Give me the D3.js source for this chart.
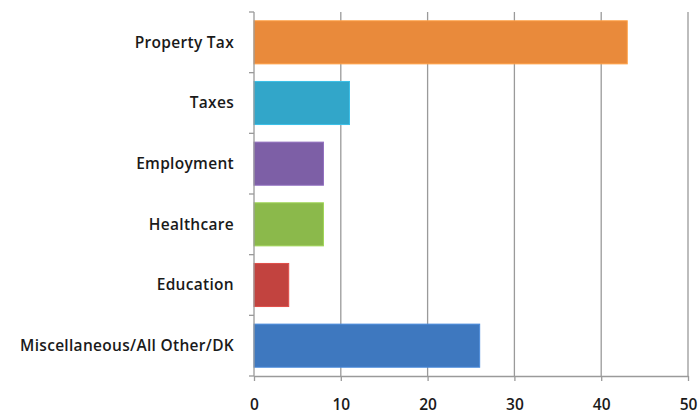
<!DOCTYPE html>
<html>
<head>
<meta charset="utf-8">
<script src="https://cdn.jsdelivr.net/npm/d3@7"></script>
<style>
  body { margin: 0; background: #fff; }
  text { font-family: "Open Sans", sans-serif; font-weight: 600; fill: #1a1a1a; }
</style>
</head>
<body>
<div class="chart"></div>
<script>
const width = 698;
const height = 415;

const categories = [
  "Property Tax",
  "Taxes",
  "Employment",
  "Healthcare",
  "Education",
  "Miscellaneous/All Other/DK",
];
const values = [43, 11, 8, 8, 4, 26];
const colors = ["#e98a3b", "#32a6c9", "#7d5fa6", "#8bb94b", "#c2433f", "#3e78bf"];
const xTicks = [0, 10, 20, 30, 40, 50];

const margin = { top: 12, right: 10, bottom: 39, left: 254 };

const svg = d3
  .select(".chart")
  .append("svg")
  .attr("width", width)
  .attr("height", height);

const x = d3.scaleLinear().domain([0, 50]).range([margin.left, 688]);
const y = d3
  .scaleBand()
  .domain(categories)
  .range([margin.top, height - margin.bottom])
  .paddingInner(0.29)
  .paddingOuter(0.145);

// gridlines
svg
  .append("g")
  .selectAll("line")
  .data(xTicks.slice(1))
  .enter()
  .append("line")
  .attr("x1", (d) => x(d))
  .attr("x2", (d) => x(d))
  .attr("y1", margin.top)
  .attr("y2", height - margin.bottom)
  .attr("stroke", "#9a9a9a")
  .attr("stroke-width", 1.3);

// bars
svg
  .append("g")
  .selectAll("rect")
  .data(categories)
  .enter()
  .append("rect")
  .attr("x", x(0))
  .attr("y", (d) => y(d))
  .attr("width", (d, i) => x(values[i]) - x(0))
  .attr("height", y.bandwidth())
  .attr("fill", (d, i) => colors[i])
  .attr("stroke", (d, i) => d3.color(colors[i]).brighter(0.4))
  .attr("stroke-width", 1);

// y axis with outward ticks at band edges
const yAxis = svg.append("g");
yAxis
  .append("line")
  .attr("x1", x(0))
  .attr("x2", x(0))
  .attr("y1", margin.top)
  .attr("y2", height - margin.bottom)
  .attr("stroke", "#9a9a9a")
  .attr("stroke-width", 1.3);

const step = y.step();
const bandEdges = d3.range(categories.length + 1).map((i) => margin.top + i * step);
yAxis
  .selectAll(".ytick")
  .data(bandEdges)
  .enter()
  .append("line")
  .attr("x1", x(0) - 5)
  .attr("x2", x(0))
  .attr("y1", (d) => d)
  .attr("y2", (d) => d)
  .attr("stroke", "#9a9a9a")
  .attr("stroke-width", 1.3);

yAxis
  .selectAll("text")
  .data(categories)
  .enter()
  .append("text")
  .attr("x", x(0) - 20)
  .attr("y", (d) => y(d) + y.bandwidth() / 2)
  .attr("dy", "0.35em")
  .attr("text-anchor", "end")
  .style("font-size", "15.5px")
  .style("letter-spacing", "0.3px")
  .text((d) => d);

// x axis
const xAxis = svg
  .append("g")
  .attr("transform", `translate(0,${height - margin.bottom})`)
  .call(d3.axisBottom(x).tickValues(xTicks).tickSize(5).tickSizeOuter(0).tickPadding(18));

xAxis.select(".domain").attr("stroke", "#9a9a9a").attr("stroke-width", 1.3);
xAxis.selectAll(".tick line").attr("stroke", "#9a9a9a").attr("stroke-width", 1.3);
xAxis
  .selectAll(".tick text")
  .style("font-size", "15.5px")
  .style("font-family", "Open Sans")
  .style("font-weight", 600)
  .attr("fill", "#1a1a1a");
</script>
</body>
</html>
